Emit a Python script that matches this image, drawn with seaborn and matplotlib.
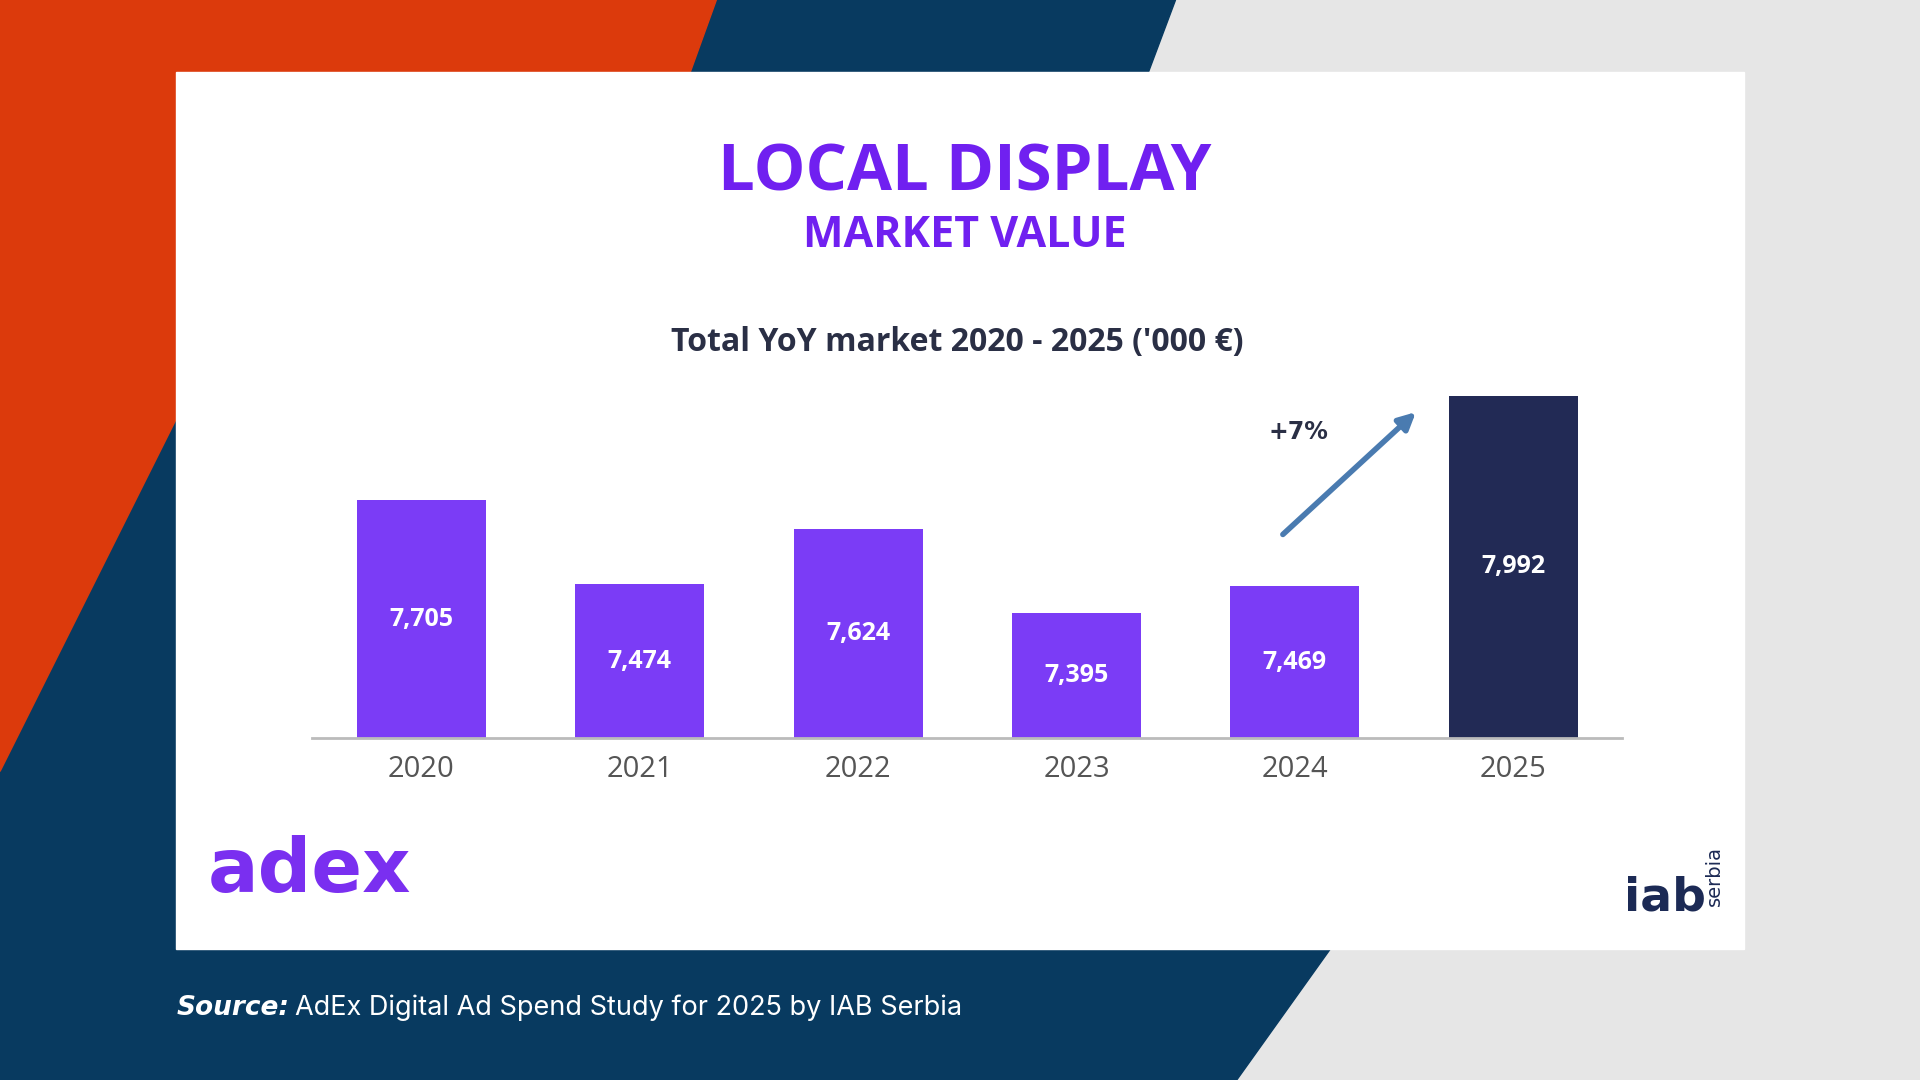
import matplotlib.pyplot as plt
import matplotlib.patches as mpatches
import seaborn as sns
import pandas as pd

years = ["2020", "2021", "2022", "2023", "2024", "2025"]
values = [7705, 7474, 7624, 7395, 7469, 7992]
labels = ["7,705", "7,474", "7,624", "7,395", "7,469", "7,992"]
colors = ["#7b3cf6"] * 5 + ["#222a55"]

W, H = 1568, 882
def fx(x): return x / W
def fy(y): return 1 - y / H

fig = plt.figure(figsize=(19.2, 10.8), dpi=100)
fig.patch.set_facecolor("#e6e6e6")
bg = fig.add_axes([0, 0, 1, 1])
bg.set_xlim(0, W); bg.set_ylim(H, 0); bg.axis("off")
bg.add_patch(mpatches.Polygon([(0, 0), (960, 0), (930, 80), (1090, 770), (1010, 882), (0, 882)],
                              color="#083a60"))
bg.add_patch(mpatches.Polygon([(0, 0), (585, 0), (520, 180), (150, 330), (0, 630)], color="#dc3a0c"))
bg.add_patch(mpatches.Rectangle((144, 59), 1280, 716, color="white"))
bg.text(144, 823, "Source:", fontsize=19, style="italic", weight="bold", color="white", va="center")
bg.text(241, 823, "AdEx Digital Ad Spend Study for 2025 by IAB Serbia", fontsize=19.5, color="white",
        va="center", family="Inter")
bg.text(788, 142, "LOCAL DISPLAY", fontsize=47, weight="bold", color="#7020f0", ha="center", va="center",
        family="Open Sans")
bg.text(788, 192, "MARKET VALUE", fontsize=31, weight="bold", color="#7020f0", ha="center", va="center",
        family="Open Sans")
bg.text(782, 280, "Total YoY market 2020 - 2025 ('000 €)", fontsize=23, weight="bold", color="#2a2f45",
        ha="center", va="center", family="Open Sans")
bg.text(253, 712, "adex", fontsize=54, weight="bold", color="#7a2ff0", ha="center", va="center")
bg.text(1360, 733, "iab", fontsize=34, weight="bold", color="#1c2a55", ha="center", va="center")
bg.text(1400, 715, "serbia", fontsize=14, color="#1c2a55", rotation=90, ha="center", va="center")
bg.annotate("", xy=(1158, 335), xytext=(1046, 438),
            arrowprops=dict(arrowstyle="-|>", color="#4a7bb0", lw=4, mutation_scale=25))
bg.text(1060, 353, "+7%", fontsize=17, weight="bold", color="#2a2f45", ha="center", va="center")

ax = fig.add_axes([fx(255), fy(603), fx(1325) - fx(255), fy(323) - fy(603)])
df = pd.DataFrame({"year": years, "value": values})
sns.barplot(data=df, x="year", y="value", hue="year", palette=colors, legend=False, width=0.59,
            saturation=1, ax=ax)
base = 7050
ax.set_ylim(base, 7992)
ax.set_xlim(-0.5, 5.5)
for i, (v, l) in enumerate(zip(values, labels)):
    ax.text(i, (base + v) / 2, l, ha="center", va="center", color="white", fontsize=18, weight="bold",
            family="Open Sans")
ax.set_facecolor("none")
for s in ["top", "right", "left"]:
    ax.spines[s].set_visible(False)
ax.spines["bottom"].set_color("#bbbbbb")
ax.spines["bottom"].set_linewidth(2)
ax.set_yticks([])
ax.set_xlabel(""); ax.set_ylabel("")
ax.tick_params(axis="x", length=0, labelsize=21, labelcolor="#555555", pad=12)
for t in ax.get_xticklabels():
    t.set_family("Open Sans")
fig.savefig("out.png", dpi=100)
